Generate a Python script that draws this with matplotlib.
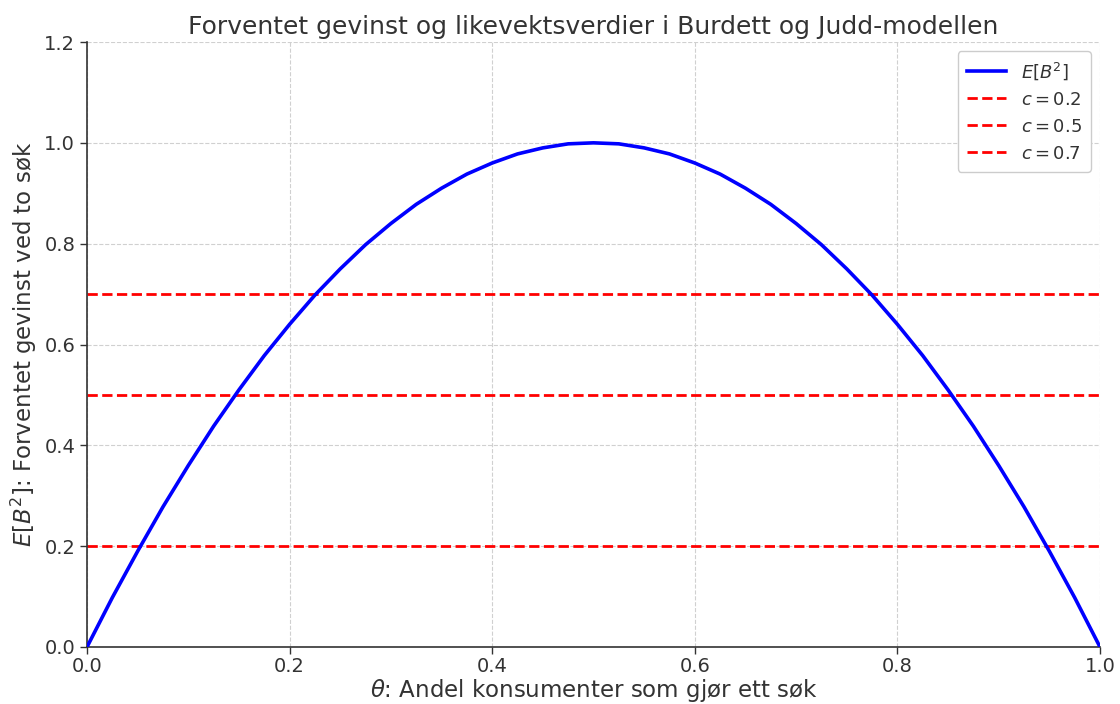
import matplotlib
matplotlib.use("Agg")
import matplotlib.pyplot as plt

# Share of consumers making a single search (theta) and the expected gain E[B^2]
theta = [0.0000, 0.0125, 0.0250, 0.0375, 0.0500, 0.0625, 0.0750, 0.0875, 0.1000, 0.1125,
         0.1250, 0.1375, 0.1500, 0.1625, 0.1750, 0.1875, 0.2000, 0.2125, 0.2250, 0.2375,
         0.2500, 0.2625, 0.2750, 0.2875, 0.3000, 0.3125, 0.3250, 0.3375, 0.3500, 0.3625,
         0.3750, 0.3875, 0.4000, 0.4125, 0.4250, 0.4375, 0.4500, 0.4625, 0.4750, 0.4875,
         0.5000, 0.5125, 0.5250, 0.5375, 0.5500, 0.5625, 0.5750, 0.5875, 0.6000, 0.6125,
         0.6250, 0.6375, 0.6500, 0.6625, 0.6750, 0.6875, 0.7000, 0.7125, 0.7250, 0.7375,
         0.7500, 0.7625, 0.7750, 0.7875, 0.8000, 0.8125, 0.8250, 0.8375, 0.8500, 0.8625,
         0.8750, 0.8875, 0.9000, 0.9125, 0.9250, 0.9375, 0.9500, 0.9625, 0.9750, 0.9875,
         1.0000]
expected_gain = [0.000, 0.049, 0.098, 0.144, 0.190, 0.234, 0.278, 0.319, 0.360, 0.399,
                 0.438, 0.474, 0.510, 0.544, 0.578, 0.609, 0.640, 0.669, 0.698, 0.724,
                 0.750, 0.774, 0.798, 0.819, 0.840, 0.859, 0.878, 0.894, 0.910, 0.924,
                 0.938, 0.949, 0.960, 0.969, 0.978, 0.984, 0.990, 0.994, 0.998, 0.999,
                 1.000, 0.999, 0.998, 0.994, 0.990, 0.984, 0.978, 0.969, 0.960, 0.949,
                 0.938, 0.924, 0.910, 0.894, 0.878, 0.859, 0.840, 0.819, 0.798, 0.774,
                 0.750, 0.724, 0.698, 0.669, 0.640, 0.609, 0.578, 0.544, 0.510, 0.474,
                 0.438, 0.399, 0.360, 0.319, 0.278, 0.234, 0.190, 0.144, 0.098, 0.049,
                 0.000]

# Search cost levels
costs = [0.2, 0.5, 0.7]

x_ticks = [0.0, 0.2, 0.4, 0.6, 0.8, 1.0]
y_ticks = [0.0, 0.2, 0.4, 0.6, 0.8, 1.0, 1.2]

text_color = "#333333"
plt.rcParams["font.family"] = ["DejaVu Sans"]
plt.rcParams["text.color"] = text_color
plt.rcParams["axes.labelcolor"] = text_color
plt.rcParams["xtick.color"] = text_color
plt.rcParams["ytick.color"] = text_color

fig = plt.figure(figsize=(11.2, 7.04), dpi=100)
ax = fig.add_axes([87 / 1120, 1 - 647 / 704, (1100 - 87) / 1120, (647 - 42) / 704])

ax.plot(theta, expected_gain, color="blue", linewidth=2.6, label=r"$E[B^2]$", zorder=3)
for c in costs:
    ax.axhline(c, color="red", linestyle="--", linewidth=2.0, label=fr"$c = {c}$", zorder=2)

ax.set_xlim(0, 1)
ax.set_ylim(0, 1.2)
ax.set_xticks(x_ticks)
ax.set_yticks(y_ticks)
ax.tick_params(labelsize=14, length=5, width=1)
ax.tick_params(axis="x", pad=2)

ax.grid(True, linestyle="--", color="#d0d0d0", linewidth=0.8)
for side in ("top", "right"):
    ax.spines[side].set_visible(False)
for side in ("left", "bottom"):
    ax.spines[side].set_color(text_color)
    ax.spines[side].set_linewidth(1.2)

ax.set_title("Forventet gevinst og likevektsverdier i Burdett og Judd-modellen",
             fontsize=18, color=text_color, pad=6)
ax.set_xlabel(r"$\theta$: Andel konsumenter som gjør ett søk", fontsize=16.5, labelpad=1)
ax.set_ylabel(r"$E[B^2]$: Forventet gevinst ved to søk", fontsize=16.5, labelpad=4)

leg = ax.legend(loc="upper right", fontsize=13, frameon=True, framealpha=1.0,
                edgecolor="#cccccc", borderpad=0.5, handlelength=2.2)
for t in leg.get_texts():
    t.set_color(text_color)

fig.savefig("out.png", dpi=100)
